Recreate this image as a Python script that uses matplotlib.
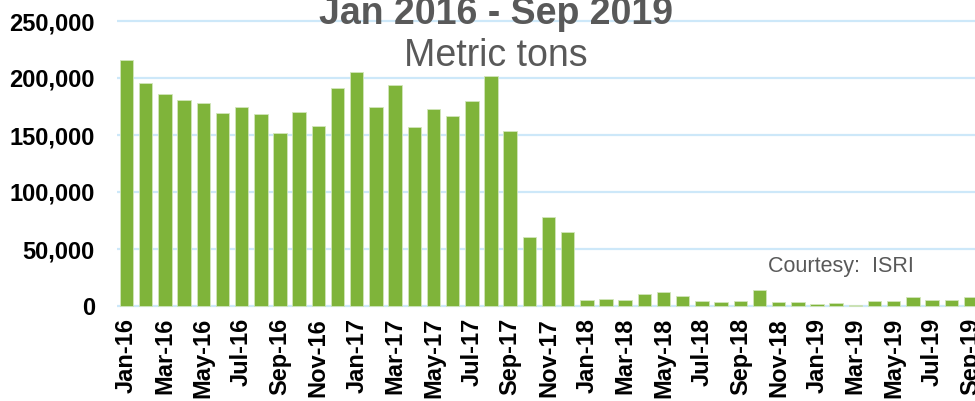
import numpy as np
import matplotlib
matplotlib.use("Agg")
import matplotlib.pyplot as plt
from matplotlib.ticker import FuncFormatter

plt.rcParams['font.family'] = ['Liberation Sans', 'DejaVu Sans']

# monthly values, metric tons
months = [f"{m}-{y}" for y in ("16", "17", "18", "19")
          for m in ("Jan", "Feb", "Mar", "Apr", "May", "Jun",
                    "Jul", "Aug", "Sep", "Oct", "Nov", "Dec")][:45]
tons_2016 = [215500, 195300, 185600, 180700, 178000, 169000,
             174300, 168400, 152000, 169900, 157600, 190900]
tons_2017 = [205200, 174800, 194100, 156700, 172500, 166600,
             179500, 201500, 153700, 60500, 78300, 64600]
tons_2018 = [5600, 6100, 5600, 10200, 12300, 8500,
             4700, 3500, 4400, 14300, 3500, 3500]
tons_2019 = [1800, 2300, 900, 4400, 4100, 7600, 5300, 5300, 7600]
tons = tons_2016 + tons_2017 + tons_2018 + tons_2019
y_ticks = [0, 50000, 100000, 150000, 200000, 250000]

W, H = 975, 401
fig = plt.figure(figsize=(W / 100, H / 100), dpi=100)

# axes placed in pixel terms; right edge runs a little past the figure
px_per_unit = 285 / 250000
y_lo, y_hi = -2000, 255000
bottom_px = 306 + (0 - y_lo) * px_per_unit
top_px = 306 - y_hi * px_per_unit
ax = fig.add_axes([117 / W, (H - bottom_px) / H, (980 - 117) / W, (bottom_px - top_px) / H])

x = np.arange(len(tons))
ax.bar(x, tons, width=0.7, color='#7fb43a', edgecolor='#d2e6bb', linewidth=0.6, zorder=3)

ax.set_xlim(-0.5, 44.5)
ax.set_ylim(y_lo, y_hi)
ax.set_yticks(y_ticks)
ax.yaxis.set_major_formatter(FuncFormatter(lambda v, p: f"{int(v):,}"))
ax.set_xticks(x[::2])
ax.set_xticklabels(months[::2], rotation=90)

ax.grid(axis='y', color='#cde8f9', linewidth=1.6, zorder=0)
ax.set_axisbelow(True)
for s in ax.spines.values():
    s.set_visible(False)
ax.tick_params(axis='both', length=0, labelsize=17)
ax.tick_params(axis='y', pad=16)
ax.tick_params(axis='x', pad=7)
for lab in ax.get_xticklabels() + ax.get_yticklabels():
    lab.set_fontweight('bold')

fig.text(496 / W, (H - 24) / H, "Jan 2016 - Sep 2019", ha='center', va='baseline',
         fontsize=27, fontweight='bold', color='#595959')
fig.text(496 / W, (H - 66) / H, "Metric tons", ha='center', va='baseline',
         fontsize=27, color='#595959')
fig.text(768 / W, (H - 272) / H, "Courtesy:  ISRI", ha='left', va='baseline',
         fontsize=15.5, color='#595959')

fig.savefig("out.png", dpi=100)
